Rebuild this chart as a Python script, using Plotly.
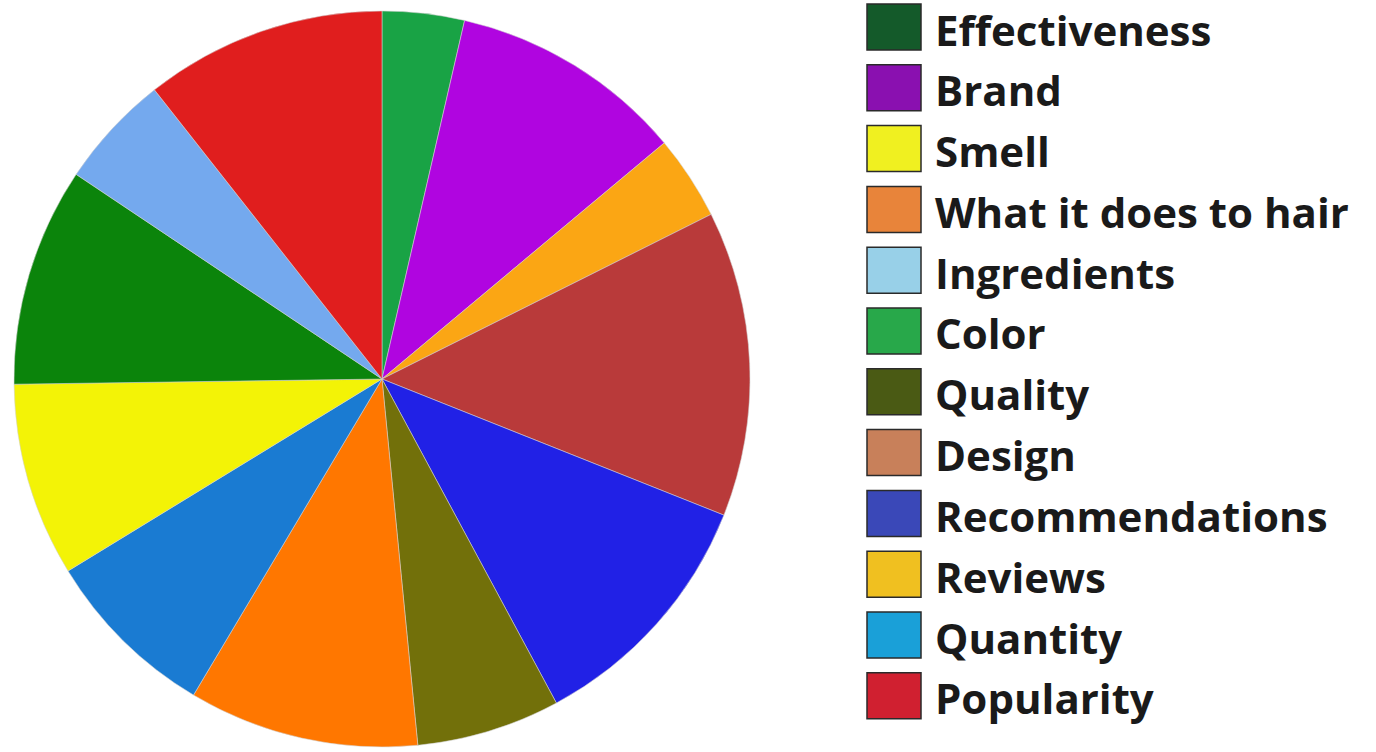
import plotly.graph_objects as go

# Pie slices, clockwise from 12 o'clock
slice_labels = ["Color", "Brand", "Reviews", "Design", "Recommendations", "Quality",
                "What it does to hair", "Quantity", "Smell", "Effectiveness",
                "Ingredients", "Popularity"]
slice_values = [3.6, 10.3, 3.7, 13.4, 11.1, 6.3, 10.1, 7.7, 8.5, 9.6, 5.0, 10.6]
slice_colors = ["#19a345", "#b005e0", "#fba614", "#b93a3a", "#2121e6", "#72700a",
                "#ff7700", "#1a7bd2", "#f3f306", "#0b840b", "#74a9ee", "#e01e1e"]

# Legend entries (as shown on the right)
legend_labels = ["Effectiveness", "Brand", "Smell", "What it does to hair", "Ingredients",
                 "Color", "Quality", "Design", "Recommendations", "Reviews",
                 "Quantity", "Popularity"]
legend_colors = ["#145a2a", "#8a10b0", "#f0f020", "#e8843a", "#98d0e8", "#28a84a",
                 "#4a5a14", "#c8805a", "#3a48b8", "#f0c020", "#1aa0d8", "#d02030"]

W, H = 1376, 752
cx, cy, r = 382, 379, 368

y0 = max(0.0, (H - cy - r) / H)
y1 = min(1.0, (H - cy + r) / H)

fig = go.Figure()
fig.add_trace(go.Pie(
    labels=slice_labels,
    values=slice_values,
    sort=False,
    direction="clockwise",
    rotation=0,
    marker=dict(colors=slice_colors, line=dict(color="rgba(210,210,210,0.55)", width=1)),
    textinfo="none",
    hoverinfo="label+percent",
    showlegend=False,
    domain=dict(x=[(cx - r) / W, (cx + r) / W], y=[y0, y1]),
))

shapes = []
annotations = []
top, step = 27, 60.8
sq_x0, sq_x1, sq_h = 867, 921, 46
text_x = 934
for i, (lab, col) in enumerate(zip(legend_labels, legend_colors)):
    c = top + i * step
    shapes.append(dict(type="rect", xref="paper", yref="paper",
                       x0=sq_x0 / W, x1=sq_x1 / W,
                       y0=1 - (c + sq_h / 2) / H, y1=1 - (c - sq_h / 2) / H,
                       fillcolor=col, line=dict(color="#2a2a2a", width=1.5)))
    annotations.append(dict(text=lab, xref="paper", yref="paper",
                            x=text_x / W, y=1 - (c + 2) / H, xanchor="left", yanchor="middle",
                            showarrow=False, borderpad=0,
                            font=dict(family="Open Sans", size=42, color="#1a1a1a", weight="bold")))

fig.update_layout(
    width=W, height=H,
    margin=dict(l=0, r=0, t=0, b=0),
    paper_bgcolor="white", plot_bgcolor="white",
    shapes=shapes, annotations=annotations,
    showlegend=False,
)
fig.write_html("out.html", config={"displayModeBar": False},
               post_script="document.body.style.margin='0px';")
